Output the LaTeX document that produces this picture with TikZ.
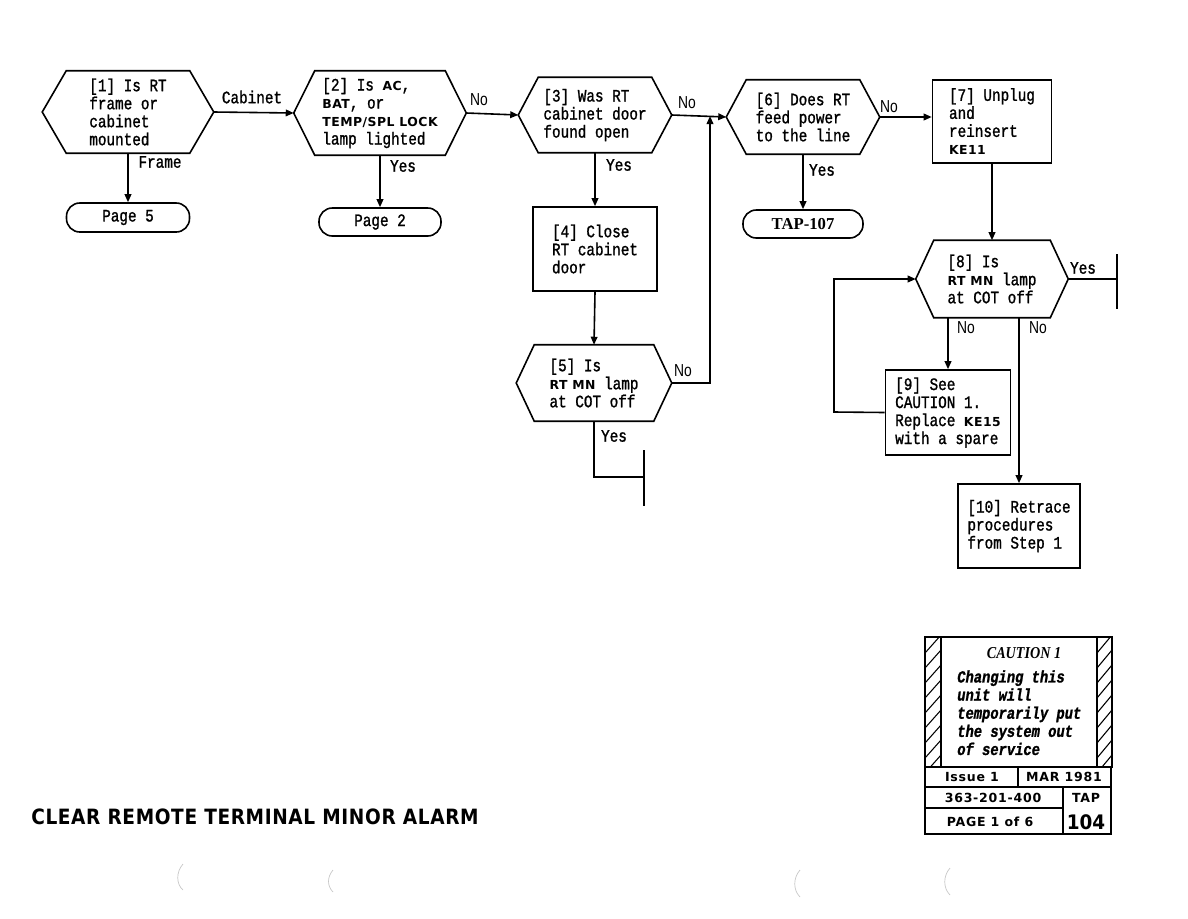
\documentclass[tikz,border=0pt]{standalone}
\usepackage{fontspec}
\usetikzlibrary{arrows.meta}
\newfontfamily\tw[FakeStretch=0.82,FakeBold=1.2]{Liberation Mono}
\newfontfamily\kwf[LetterSpace=4]{DejaVu Sans}
\newfontfamily\kwsp[LetterSpace=6]{DejaVu Sans}
\newfontfamily\bigf[FakeStretch=0.92]{DejaVu Sans}
\newfontfamily\nof[FakeStretch=0.8]{Liberation Sans}
\newfontfamily\serf{Liberation Serif}
\newfontfamily\serfc[FakeStretch=0.85]{Liberation Serif}
\newfontfamily\ttlf[LetterSpace=3,FakeStretch=0.88]{DejaVu Sans}
\newcommand\kw[1]{{\kwf\bfseries\fontsize{9.3}{13.5}\selectfont #1}}
\newcommand\pxu{*0.75pt}
\tikzset{
  txt/.style={font=\tw\fontsize{13.1}{13.5}\selectfont, align=left, inner sep=0pt},
  hexn/.style={txt, draw=none},
  boxn/.style={txt, draw, line width=1.2pt},
  termn/.style={txt, draw, line width=1.2pt, rounded corners=10pt},
  lab/.style={font=\tw\fontsize{13.1}{13.5}\selectfont, inner sep=0pt},
  nolab/.style={font=\nof\fontsize{13}{13}\selectfont, inner sep=0pt},
  conn/.style={line width=1.2pt},
  arr/.style={conn, -{Triangle[length=6pt,width=5pt]}},
  bar/.style={line width=2pt},
  tbl/.style={font=\kwsp\bfseries\fontsize{9.4}{11}\selectfont, inner sep=0pt},
}
\newcommand\hexdraw[2]{%
  \draw[line width=1.2pt] (#1.west) -- ([xshift=#2\pxu]#1.north west) -- ([xshift=-#2\pxu]#1.north east) -- (#1.east) -- ([xshift=-#2\pxu]#1.south east) -- ([xshift=#2\pxu]#1.south west) -- cycle;}
\begin{document}
\begin{tikzpicture}[x=0.75pt,y=-0.75pt]
\useasboundingbox (0,0) rectangle (1188,918);
\fill[white] (0,0) rectangle (1188,918);

% hexagons
\node[hexn, minimum width=171\pxu, minimum height=82\pxu] (h1) at (128,112)
  {[1] Is RT\\frame or\\cabinet\\mounted};
\hexdraw{h1}{24}
\node[hexn, minimum width=172\pxu, minimum height=84\pxu] (h2) at (380,113)
  {[2] Is \kw{AC},\\\kw{BAT}, or\\\kw{TEMP/SPL LOCK}\\lamp lighted};
\hexdraw{h2}{21}
\node[hexn, minimum width=153\pxu, minimum height=75\pxu] (h3) at (595,115)
  {[3] Was RT\\cabinet door\\found open};
\hexdraw{h3}{20}
\node[hexn, minimum width=153\pxu, minimum height=74\pxu] (h6) at (803,117)
  {[6] Does RT\\feed power\\to the line};
\hexdraw{h6}{20}
\node[hexn, minimum width=152\pxu, minimum height=77\pxu] (h8) at (992,279)
  {[8] Is\\\kw{RT MN} lamp\\at COT off};
\hexdraw{h8}{18}
\node[hexn, minimum width=155\pxu, minimum height=76\pxu] (h5) at (594,383)
  {[5] Is\\\kw{RT MN} lamp\\at COT off};
\hexdraw{h5}{18}

% boxes
\node[boxn, minimum width=124\pxu, minimum height=84\pxu] (b4) at (595,249)
  {[4] Close\\RT cabinet\\door};
\node[boxn, minimum width=119\pxu, minimum height=83\pxu] (b7) at (992,121.5)
  {[7] Unplug\\and\\reinsert\\\kw{KE11}};
\node[boxn, minimum width=125\pxu, minimum height=85\pxu] (b9) at (948,412.5)
  {[9] See\\CAUTION 1.\\Replace \kw{KE15}\\with a spare};
\node[boxn, minimum width=122\pxu, minimum height=84\pxu] (b10) at (1019,526)
  {[10] Retrace\\procedures\\from Step 1};

% terminals
\node[termn, minimum width=123\pxu, minimum height=29\pxu] (p5) at (128,217.5) {Page 5};
\node[termn, minimum width=122\pxu, minimum height=28\pxu] (p2) at (380,222) {Page 2};
\node[termn, minimum width=120\pxu, minimum height=28\pxu, font=\serf\bfseries\fontsize{12.5}{13}\selectfont] (t107) at (803,224) {TAP-107};

% connectors
\draw[arr] (h1.east) -- (h2.west);
\draw[arr] (h2.east) -- (h3.west);
\draw[arr] (h3.east) -- (h6.west);
\draw[arr] (h6.east) -- (h6.east -| b7.west);
\draw[arr] (h1.south) -- (p5.north);
\draw[arr] (h2.south) -- (p2.north);
\draw[arr] (h3.south) -- (b4.north);
\draw[arr] (b4.south) -- (h5.north);
\draw[arr] (h6.south) -- (t107.north);
\draw[arr] (b7.south) -- (h8.north);
\draw[arr] (b9.north |- h8.south) -- (b9.north);
\draw[arr] (b10.north |- h8.south) -- (b10.north);
\coordinate (jn) at (710,116);
\draw[arr] (h5.east) -| (jn);
\coordinate (lp) at (834,412);
\draw[arr] (b9.west) -- (lp) |- (h8.west);
\coordinate (e5) at (644,477);
\coordinate (e5t) at (644,450);
\coordinate (e5b) at (644,506);
\draw[conn] (h5.south) |- (e5);
\draw[bar] (e5t) -- (e5b);
\coordinate (e8) at (1117,279);
\coordinate (e8t) at (1117,254);
\coordinate (e8b) at (1117,309);
\draw[conn] (h8.east) -- (e8);
\draw[bar] (e8t) -- (e8b);

% labels
\node[lab] (l1) at (252,97) {Cabinet};
\node[lab] (l2) at (160,162) {Frame};
\node[lab] (l3) at (403,166) {Yes};
\node[nolab] (l4) at (479,100) {No};
\node[lab] (l5) at (619,165) {Yes};
\node[nolab] (l6) at (687,103) {No};
\node[lab] (l7) at (822,170) {Yes};
\node[nolab] (l8) at (889,107) {No};
\node[nolab] (l9) at (683,371) {No};
\node[lab] (l10) at (614,436) {Yes};
\node[lab] (l11) at (1083,268) {Yes};
\node[nolab] (l12) at (966,328) {No};
\node[nolab] (l13) at (1038,328) {No};

% caution block
\begin{scope}
  \clip (925,637) rectangle (941,767);
  \foreach \k in {620,635,...,780} \draw[line width=0.8pt] (925,\k+18) -- (941,\k);
\end{scope}
\begin{scope}
  \clip (1097,637) rectangle (1112,767);
  \foreach \k in {620,635,...,780} \draw[line width=0.8pt] (1097,\k+18) -- (1112,\k);
\end{scope}
\draw[line width=1.2pt] (925,637) rectangle (1112,767);
\draw[line width=1pt] (941,637) -- (941,767);
\draw[line width=1pt] (1097,637) -- (1097,767);
\node[font=\serfc\bfseries\itshape\fontsize{12.5}{14}\selectfont, inner sep=0pt] (ct) at (1024,653) {CAUTION 1};
\node[font=\tw\bfseries\itshape\fontsize{12.6}{13.6}\selectfont, align=left, inner sep=0pt, anchor=north west] (cb) at (957,670)
  {Changing this\\unit will\\temporarily put\\the system out\\of service};
\draw[line width=1.2pt] (925,767) rectangle (1111,834);
\draw[line width=1.2pt] (925,787) -- (1111,787);
\draw[line width=1.2pt] (925,808) -- (1063,808);
\draw[line width=1.2pt] (1018,767) -- (1018,787);
\draw[line width=1.2pt] (1063,787) -- (1063,834);
\node[tbl] (t1) at (972,777) {Issue 1};
\node[tbl] (t2) at (1064,777) {MAR 1981};
\node[tbl] (t3) at (993,798) {363-201-400};
\node[tbl] (t4) at (990,822) {PAGE 1 of 6};
\node[tbl] (t5) at (1086,798) {TAP};
\node[font=\bigf\bfseries\fontsize{15}{16}\selectfont, inner sep=0pt] (t6) at (1086,822) {104};

% title
\node[font=\ttlf\bfseries\fontsize{15.8}{18}\selectfont, inner sep=0pt, anchor=west] (title) at (31,817) {CLEAR REMOTE TERMINAL MINOR ALARM};

% faint binder marks
\draw[gray!45, line width=0.5pt] (183,864) .. controls (176,872) and (176,884) .. (183,890);
\draw[gray!45, line width=0.5pt] (333,870) .. controls (327,877) and (327,886) .. (333,892);
\draw[gray!45, line width=0.5pt] (800,870) .. controls (793,878) and (793,890) .. (800,897);
\draw[gray!45, line width=0.5pt] (950,868) .. controls (943,876) and (943,888) .. (950,895);
\end{tikzpicture}
\end{document}
